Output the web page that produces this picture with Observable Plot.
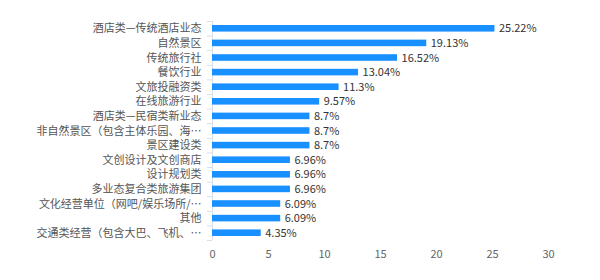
<!DOCTYPE html>
<html>
<head>
<meta charset="utf-8">
<script src="https://cdn.jsdelivr.net/npm/d3@7"></script>
<script src="https://cdn.jsdelivr.net/npm/@observablehq/plot@0.6"></script>
<style>
  html, body { margin: 0; padding: 0; background: #fff; }
  #chart svg { font-family: "Noto Sans CJK SC", "Noto Sans", sans-serif; }
</style>
</head>
<body>
<div id="chart"></div>
<script>
const categories = [
  "酒店类—传统酒店业态",
  "自然景区",
  "传统旅行社",
  "餐饮行业",
  "文旅投融资类",
  "在线旅游行业",
  "酒店类—民宿类新业态",
  "非自然景区（包含主体乐园、海…",
  "景区建设类",
  "文创设计及文创商店",
  "设计规划类",
  "多业态复合类旅游集团",
  "文化经营单位（网吧/娱乐场所/…",
  "其他",
  "交通类经营（包含大巴、飞机、…"
];
const values = [25.22, 19.13, 16.52, 13.04, 11.3, 9.57, 8.7, 8.7, 8.7, 6.96, 6.96, 6.96, 6.09, 6.09, 4.35];
const xTicks = [0, 5, 10, 15, 20, 25, 30];

const data = categories.map((c, i) => ({ category: c, value: values[i] }));

const W = 600, H = 280, mT = 21, mB = 40;
const step = (H - mT - mB) / categories.length;

// short tick marks on the left of the category axis, at band boundaries
const leftTicks = (index, scales, values, dims, ctx, next) => {
  const g = next(index, scales, values, dims, ctx);
  d3.select(g).selectAll("line").attr("x1", dims.marginLeft - 5).attr("x2", dims.marginLeft);
  return g;
};

const chart = Plot.plot({
  width: W,
  height: H,
  marginLeft: 212,
  marginRight: 52,
  marginTop: mT,
  marginBottom: mB,
  style: { fontSize: "11px", color: "#555", background: "#fff" },
  x: { domain: [0, 30], ticks: xTicks, label: null },
  y: { domain: categories, label: null, paddingInner: 0.55, paddingOuter: 0.275, round: false },
  marks: [
    Plot.axisX({ ticks: xTicks, tickSize: 0, tickPadding: 10, fill: "#666", fontSize: 11 }),
    Plot.axisY({ tickSize: 0, tickPadding: 11, fill: "#555", fontSize: 11 }),
    Plot.ruleX([0], { stroke: "#d9dfe8", strokeWidth: 1 }),
    Plot.ruleY([0], { stroke: "#d9dfe8", frameAnchor: "bottom" }),
    Plot.ruleY(categories, { y: d => d, dy: -step / 2, stroke: "#d9dfe8", render: leftTicks }),
    Plot.ruleY(categories.slice(-1), { y: d => d, dy: step / 2, stroke: "#d9dfe8", render: leftTicks }),
    Plot.barX(data, { x: "value", y: "category", fill: "#1890ff" }),
    Plot.text(data, { x: "value", y: "category", text: d => d.value + "%", textAnchor: "start", dx: 4, fill: "#333", fontSize: 11 })
  ]
});
document.getElementById("chart").appendChild(chart);
</script>
</body>
</html>
